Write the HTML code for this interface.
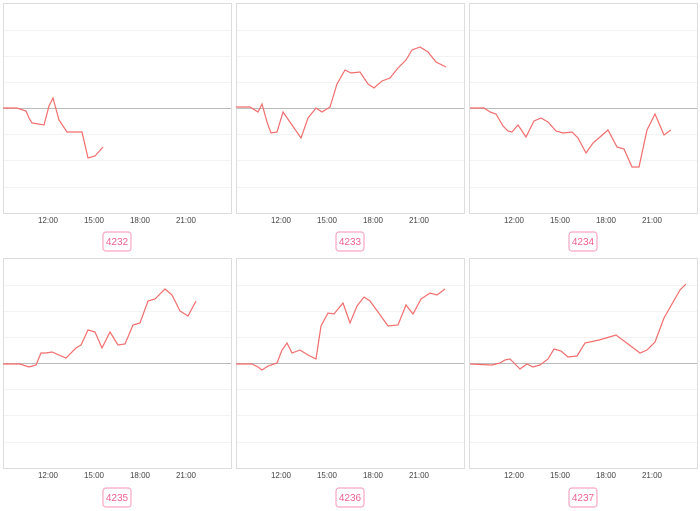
<!DOCTYPE html><html><head><meta charset="utf-8"><style>body{margin:0;background:#fff}svg{display:block}</style></head><body>
<svg width="700" height="511" xmlns="http://www.w3.org/2000/svg" font-family="Liberation Sans, sans-serif">
<defs>
<g id="grid">
<rect x="0.5" y="0.5" width="228" height="210" fill="#fff" stroke="#ddd"/>
<g stroke="#f3f3f3"><line x1="1" x2="228" y1="27.5" y2="27.5"/><line x1="1" x2="228" y1="53.5" y2="53.5"/><line x1="1" x2="228" y1="79.5" y2="79.5"/><line x1="1" x2="228" y1="131.5" y2="131.5"/><line x1="1" x2="228" y1="157.5" y2="157.5"/><line x1="1" x2="228" y1="184.5" y2="184.5"/></g>
<line x1="1" x2="228" y1="105.5" y2="105.5" stroke="#bbb"/>
<g font-size="8" fill="#444" text-anchor="middle"><text x="45" y="220">12:00</text><text x="91" y="220">15:00</text><text x="137" y="220">18:00</text><text x="183" y="220">21:00</text></g>
</g>
</defs>
<g fill="none" stroke="#f06a6a" stroke-width="1.2">
</g>
<use href="#grid" x="3" y="3"/><use href="#grid" x="236" y="3"/><use href="#grid" x="469" y="3"/>
<use href="#grid" x="3" y="258"/><use href="#grid" x="236" y="258"/><use href="#grid" x="469" y="258"/>
<g fill="none" stroke="#f26d6d" stroke-width="1.2">
<polyline points="3,108 17,108 26,111 29,118 32,123 44,125 49,106 53,98 59,120 67,132 82,132 88,158 95,156 103,147"/>
<polyline points="236,107 250,107 258,112 262,104 267,122 271,133 277,132 283,112 292,125 301,138 308,118 316,108 322,112 330,107 337,84 345,70 351,73 360,72 368,84 374,88 382,81 390,78 398,68 406,60 412,50 420,47 428,52 436,62 446,67"/>
<polyline points="470,108 484,108 490,112 496,114 503,126 508,131 512,132 518,125 526,137 534,121 541,118 548,122 556,131 563,133 572,132 578,138 586,153 593,143 600,137 608,130 617,147 624,149 632,167 639,167 647,130 655,114 664,135 671,130"/>
<polyline points="3,364 20,364 29,367 36,365 41,353 46,353 52,352 66,358 76,348 81,345 88,330 95,332 102,348 110,332 118,345 125,344 133,325 140,323 148,301 155,299 165,289 172,295 180,311 188,316 196,301"/>
<polyline points="236,364 252,364 258,367 262,370 268,366 277,363 282,350 287,343 292,353 300,350 308,355 316,359 321,326 328,313 334,314 343,303 350,323 357,306 364,297 370,301 378,312 388,326 398,325 406,305 413,314 421,299 430,293 437,295 445,289"/>
<polyline points="470,364 492,365 496,364 500,363 505,360 510,359 520,369 527,364 533,367 540,365 548,359 554,349 561,351 568,357 577,356 585,343 599,340 606,338 616,335 628,344 640,353 647,350 655,342 664,318 680,290 686,284"/>
</g>
<g fill="#fff" stroke="#f7a8c2" stroke-width="1.2">
<rect x="103" y="232" width="28" height="19" rx="3"/><rect x="336" y="232" width="28" height="19" rx="3"/><rect x="569" y="232" width="28" height="19" rx="3"/>
<rect x="103" y="488" width="28" height="19" rx="3"/><rect x="336" y="488" width="28" height="19" rx="3"/><rect x="569" y="488" width="28" height="19" rx="3"/>
</g>
<g fill="#f06292" font-size="10" text-anchor="middle">
<text x="117" y="245">4232</text><text x="350" y="245">4233</text><text x="583" y="245">4234</text>
<text x="117" y="501">4235</text><text x="350" y="501">4236</text><text x="583" y="501">4237</text>
</g>
</svg>
</body></html>
